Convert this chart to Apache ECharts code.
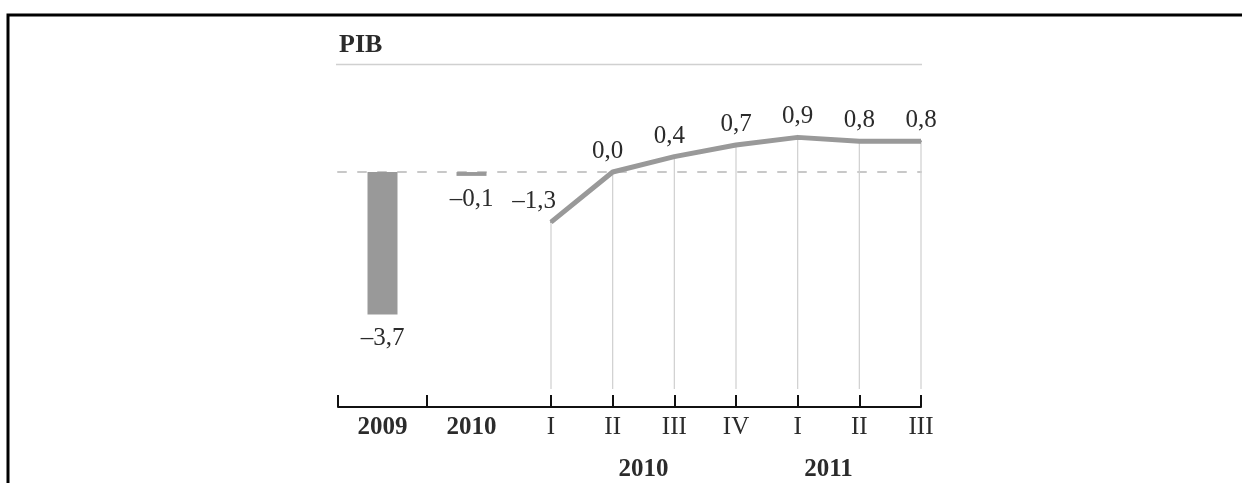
<!DOCTYPE html>
<html>
<head>
<meta charset="utf-8">
<script src="https://cdn.jsdelivr.net/npm/echarts@6/dist/echarts.min.js"></script>
<style>
html,body{margin:0;padding:0;background:#fff;}
#chart{width:1242px;height:483px;}
</style>
</head>
<body>
<div id="chart"></div>
<script>
// ---- data ----
const titleText = 'PIB';
const barCategories = ['2009', '2010'];
const barValues = [-3.7, -0.1];
const quarterLabels = ['I', 'II', 'III', 'IV', 'I', 'II', 'III'];
const quarterValues = [-1.3, 0.0, 0.4, 0.7, 0.9, 0.8, 0.8];
const yearGroups = ['2010', '2011'];
const yearLabelAt = [1.5, 4.5]; // quarter-index position of each year label

// ---- layout / style ----
const FONT = "'Liberation Serif', 'DejaVu Serif', serif";
const TXT = '#2b2b2b';
const Y_MIN = -6.1, Y_MAX = 2;
const GRID_TOP = 95, GRID_H = 312;
const fmt = v => (v < 0 ? '\u2013' : '') + Math.abs(v).toFixed(1).replace('.', ',');

const chart = echarts.init(document.getElementById('chart'), null, {renderer: 'canvas'});

const yAx = (gi) => ({
  type: 'value', gridIndex: gi, min: Y_MIN, max: Y_MAX, show: false,
  splitLine: {show: false}
});

const option = {
  animation: false,
  backgroundColor: '#fff',
  title: {
    text: titleText, left: 334, top: 27,
    textStyle: {fontFamily: FONT, fontSize: 26, fontWeight: 'bold', color: TXT}
  },
  graphic: [
    {type: 'rect', shape: {x: 8, y: 15, width: 1400, height: 600},
     style: {fill: 'none', stroke: '#000', lineWidth: 3}, silent: true},
    {type: 'line', shape: {x1: 336, y1: 64.5, x2: 922, y2: 64.5},
     style: {stroke: '#d0d0d0', lineWidth: 1.5}, silent: true}
  ],
  grid: [
    {left: 338, right: 321, top: GRID_TOP, height: GRID_H},
    {left: 338, width: 178, top: GRID_TOP, height: GRID_H},
    {left: 551, right: 321, top: GRID_TOP, height: GRID_H}
  ],
  xAxis: [
    { // zero dashed reference line
      type: 'value', gridIndex: 0, min: 0, max: 1,
      axisLine: {show: true, onZero: true, lineStyle: {color: '#c8c8c8', width: 2, type: [8, 12]}},
      axisTick: {show: false}, axisLabel: {show: false}, splitLine: {show: false}
    },
    { // solid baseline
      type: 'value', gridIndex: 0, min: 0, max: 1, position: 'bottom',
      axisLine: {show: true, onZero: false, lineStyle: {color: '#111', width: 2}},
      axisTick: {show: false}, axisLabel: {show: false}, splitLine: {show: false}
    },
    { // annual bars axis
      type: 'value', gridIndex: 1, min: -0.5, max: 1.5, position: 'bottom',
      axisLine: {show: false, onZero: false},
      axisTick: {show: true, inside: true, length: 12, customValues: [-0.5, 0.5],
                 lineStyle: {color: '#111', width: 2}},
      axisLabel: {show: true, customValues: [0, 1], margin: 8,
                  formatter: v => barCategories[Math.round(v)],
                  fontFamily: FONT, fontSize: 25, fontWeight: 'bold', color: TXT},
      splitLine: {show: false}
    },
    { // quarters axis
      type: 'category', gridIndex: 2, data: quarterLabels, boundaryGap: false, position: 'bottom',
      axisLine: {show: false, onZero: false},
      axisTick: {show: true, inside: true, length: 12, lineStyle: {color: '#111', width: 2}},
      axisLabel: {show: true, interval: 0, margin: 8, fontFamily: FONT, fontSize: 25, color: TXT},
      splitLine: {show: false}
    },
    { // year group labels
      type: 'value', gridIndex: 2, min: 0, max: quarterLabels.length - 1, position: 'bottom', offset: 0,
      axisLine: {show: false, onZero: false},
      axisTick: {show: false},
      axisLabel: {show: true, customValues: yearLabelAt, margin: 50,
                  formatter: v => yearGroups[yearLabelAt.indexOf(v)],
                  fontFamily: FONT, fontSize: 25, fontWeight: 'bold', color: TXT},
      splitLine: {show: false}
    }
  ],
  yAxis: [yAx(0), yAx(1), yAx(2)],
  series: [
    {
      type: 'bar', xAxisIndex: 2, yAxisIndex: 1,
      data: barValues.map((v, i) => [i, v]),
      barWidth: 30,
      itemStyle: {color: '#999999'},
      label: {show: true, position: 'bottom', distance: 11,
              formatter: p => fmt(p.value[1]),
              fontFamily: FONT, fontSize: 25, color: TXT},
      silent: true
    },
    {
      type: 'custom', xAxisIndex: 3, yAxisIndex: 2,
      data: quarterValues.map((v, i) => [i, v]),
      renderItem: function (params, api) {
        const p = api.coord([api.value(0), api.value(1)]);
        const b = api.coord([api.value(0), Y_MIN]);
        return {type: 'line', shape: {x1: p[0], y1: p[1], x2: b[0], y2: b[1] - 18},
                style: {stroke: '#cfcfcf', lineWidth: 1.2}};
      },
      silent: true, z: 1
    },
    {
      type: 'line', xAxisIndex: 3, yAxisIndex: 2,
      data: quarterValues.map((v, i) => i === 0
        ? {value: v, label: {offset: [-17, 0]}}
        : {value: v, label: {offset: [i < 3 ? -5 : 0, 0]}}),
      symbol: 'circle', symbolSize: 2,
      itemStyle: {color: '#999999'},
      lineStyle: {color: '#999999', width: 5, join: 'round'},
      label: {show: true, position: 'top', distance: 7,
              formatter: p => fmt(p.value),
              fontFamily: FONT, fontSize: 25, color: TXT},
      silent: true, z: 3
    }
  ]
};
chart.setOption(option);
</script>
</body>
</html>
